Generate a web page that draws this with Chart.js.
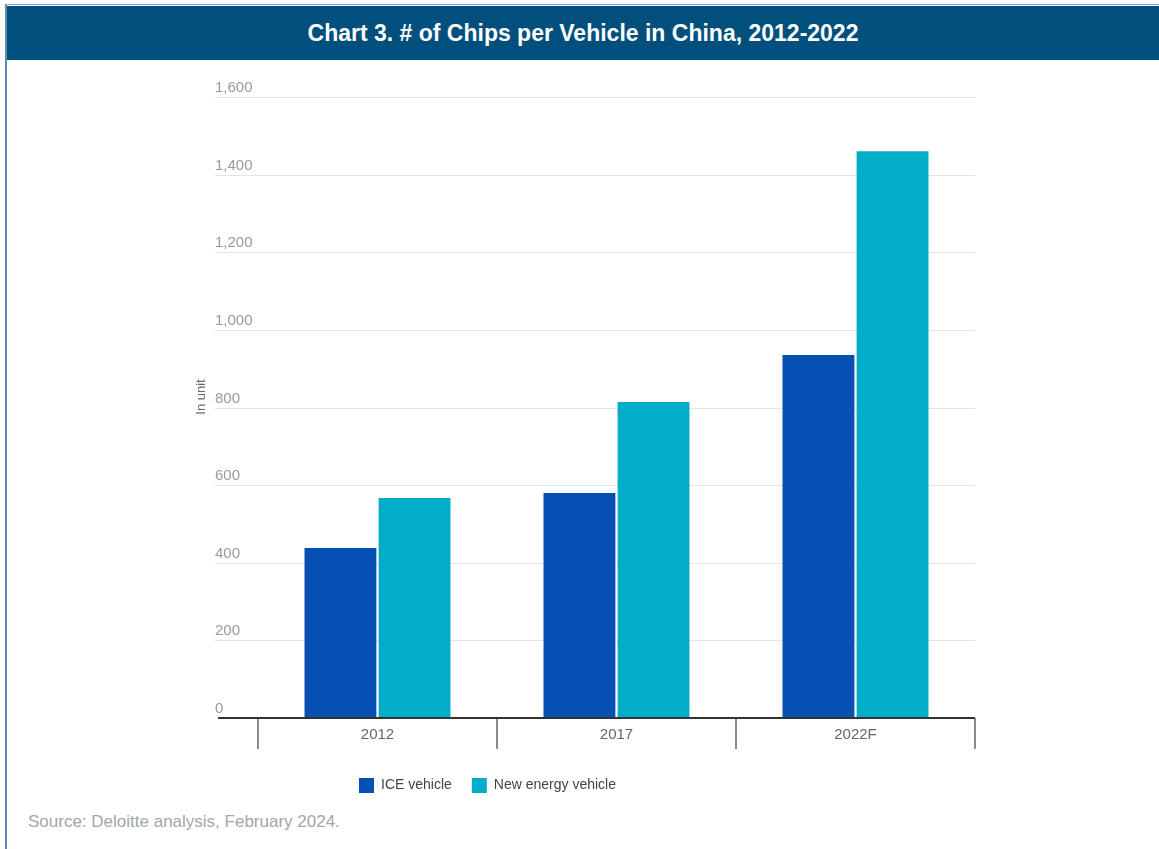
<!DOCTYPE html>
<html>
<head>
<meta charset="utf-8">
<title>Chips per Vehicle in China</title>
<script src="https://cdn.jsdelivr.net/npm/chart.js@4.4.1/dist/chart.umd.min.js"></script>
<style>
  html, body { margin: 0; padding: 0; background: #fff; }
  body { width: 1159px; height: 849px; position: relative; overflow: hidden; font-family: "Liberation Sans", Arial, sans-serif; }
  .frame { position: absolute; left: 5px; top: 4px; width: 1154px; height: 845px; border-left: 2px solid #5f8bb1; border-top: 1px solid #7fa3c4; box-sizing: border-box; }
  .title { position: absolute; left: 7px; top: 6px; right: 0; height: 54px; background: #014f7d; color: #fff;
           font-weight: bold; font-size: 23px; line-height: 54px; text-align: center; }
  .source { position: absolute; left: 28px; top: 812px; color: #a2a6aa; font-size: 17px; }
  #wrap { position: absolute; left: 0; top: 0; width: 1159px; height: 849px; }
</style>
</head>
<body>
<div class="frame"></div>
<div class="title">Chart 3. # of Chips per Vehicle in China, 2012-2022</div>
<div class="source">Source: Deloitte analysis, February 2024.</div>
<div id="wrap"><canvas id="chips-chart"></canvas></div>

<script>
const years = ['2012', '2017', '2022F'];
const iceChips = [438, 580, 935];
const nevChips = [567, 814, 1460];
const yTicks = [0, 200, 400, 600, 800, 1000, 1200, 1400, 1600];

// gridlines, axis line and tick marks drawn off the chart's own scales
const axisDecor = {
    id: 'axisDecor',
    beforeDatasetsDraw(chart) {
        const { ctx, chartArea, scales } = chart;
        const y = scales.y;
        ctx.save();
        ctx.font = '15px "Liberation Sans", Arial, sans-serif';
        ctx.fillStyle = '#9a9a9a';
        ctx.textAlign = 'left';
        ctx.textBaseline = 'bottom';
        yTicks.forEach(v => {
            const py = Math.round(y.getPixelForValue(v)) + 0.5;
            if (v > 0) {
                ctx.strokeStyle = '#e4e4e4';
                ctx.lineWidth = 1;
                ctx.beginPath();
                ctx.moveTo(215, py);
                ctx.lineTo(chartArea.right, py);
                ctx.stroke();
            }
            ctx.fillText(v.toLocaleString('en-US'), 215, py - 2);
        });
        // axis title
        ctx.translate(201, 397);
        ctx.rotate(-Math.PI / 2);
        ctx.textAlign = 'center';
        ctx.textBaseline = 'middle';
        ctx.font = '13px "Liberation Sans", Arial, sans-serif';
        ctx.fillStyle = '#666';
        ctx.fillText('In unit', 0, 0);
        ctx.restore();
    },
    afterDatasetsDraw(chart) {
        const { ctx, chartArea, scales } = chart;
        const x = scales.x;
        const base = chartArea.bottom;
        ctx.save();
        ctx.strokeStyle = '#8a8a8a';
        ctx.lineWidth = 2;
        const half = (x.getPixelForValue(1) - x.getPixelForValue(0)) / 2;
        for (let i = 0; i <= years.length; i++) {
            const px = Math.round(x.getPixelForValue(i) - half);
            ctx.beginPath();
            ctx.moveTo(px, base);
            ctx.lineTo(px, base + 31);
            ctx.stroke();
        }
        ctx.strokeStyle = '#333';
        ctx.beginPath();
        ctx.moveTo(218, base);
        ctx.lineTo(chartArea.right, base);
        ctx.stroke();
        ctx.restore();
    }
};

new Chart(document.getElementById('chips-chart'), {
    type: 'bar',
    data: {
        labels: years,
        datasets: [
            {
                label: 'ICE vehicle',
                data: iceChips,
                backgroundColor: '#0650b4',
                categoryPercentage: 0.62,
                barPercentage: 0.97
            },
            {
                label: 'New energy vehicle',
                data: nevChips,
                backgroundColor: '#02adc8',
                categoryPercentage: 0.62,
                barPercentage: 0.97
            }
        ]
    },
    options: {
        responsive: true,
        maintainAspectRatio: false,
        animation: false,
        layout: { padding: { top: 97, right: 184, left: 0, bottom: 46 } },
        plugins: {
            tooltip: { enabled: false },
            legend: {
                position: 'bottom',
                labels: {
                    boxWidth: 15,
                    boxHeight: 15,
                    padding: 20,
                    color: '#444',
                    font: { family: '"Liberation Sans", Arial, sans-serif', size: 14 }
                }
            }
        },
        scales: {
            x: {
                grid: { display: false },
                border: { display: false },
                ticks: {
                    color: '#666',
                    padding: 0,
                    font: { family: '"Liberation Sans", Arial, sans-serif', size: 15 }
                },
                afterFit(scale) { scale.height = 40; }
            },
            y: {
                min: 0,
                max: 1600,
                ticks: { display: false, stepSize: 200 },
                grid: { display: false },
                border: { display: false },
                afterFit(scale) { scale.width = 258; }
            }
        }
    },
    plugins: [axisDecor]
});
</script>
</body>
</html>
